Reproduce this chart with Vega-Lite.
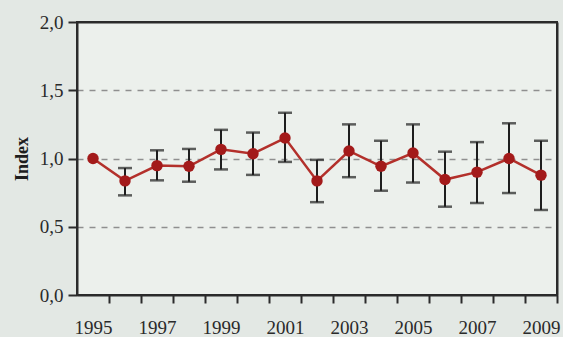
{
  "$schema": "https://vega.github.io/schema/vega-lite/v6.json",
  "width": 480,
  "height": 273,
  "autosize": "none",
  "padding": {"left": 77, "top": 22, "right": 6, "bottom": 42},
  "background": "#e3e8e4",
  "config": {
    "view": {"fill": "#ecf0ec", "stroke": "#2b2b2b", "strokeWidth": 2},
    "font": "Liberation Serif"
  },
  "data": {
    "values": [
      {"year": 1995, "value": 1.0, "lo": null, "hi": null},
      {"year": 1996, "value": 0.836, "lo": 0.73, "hi": 0.93},
      {"year": 1997, "value": 0.948, "lo": 0.84, "hi": 1.06},
      {"year": 1998, "value": 0.943, "lo": 0.83, "hi": 1.07},
      {"year": 1999, "value": 1.067, "lo": 0.92, "hi": 1.21},
      {"year": 2000, "value": 1.035, "lo": 0.88, "hi": 1.19},
      {"year": 2001, "value": 1.15, "lo": 0.975, "hi": 1.335},
      {"year": 2002, "value": 0.836, "lo": 0.68, "hi": 0.99},
      {"year": 2003, "value": 1.055, "lo": 0.863, "hi": 1.25},
      {"year": 2004, "value": 0.943, "lo": 0.764, "hi": 1.13},
      {"year": 2005, "value": 1.04, "lo": 0.824, "hi": 1.25},
      {"year": 2006, "value": 0.846, "lo": 0.647, "hi": 1.05},
      {"year": 2007, "value": 0.9, "lo": 0.674, "hi": 1.12},
      {"year": 2008, "value": 1.0, "lo": 0.747, "hi": 1.258},
      {"year": 2009, "value": 0.878, "lo": 0.623, "hi": 1.13}
    ]
  },
  "resolve": {"axis": {"x": "independent", "y": "independent"}},
  "layer": [
    {
      "mark": {"type": "rule", "color": "#1e1e1e", "strokeWidth": 2},
      "encoding": {
        "x": {
          "field": "year",
          "type": "quantitative",
          "scale": {"domain": [1994.5, 2009.5], "nice": false, "zero": false},
          "axis": {
            "title": null,
            "values": [1995, 1996, 1997, 1998, 1999, 2000, 2001, 2002, 2003, 2004, 2005, 2006, 2007, 2008, 2009],
            "tickOffset": 16,
            "labelOffset": -16,
            "labelExpr": "datum.value % 2 == 1 ? datum.value + '' : ''",
            "labelOverlap": false,
            "labelFlush": false,
            "grid": false,
            "domainColor": "#2b2b2b",
            "domainWidth": 2,
            "tickColor": "#2b2b2b",
            "tickWidth": 2,
            "tickSize": 8,
            "labelPadding": 15,
            "labelFontSize": 19,
            "labelColor": "#2a2a2a",
            "labelFont": "Liberation Serif"
          }
        },
        "y": {
          "field": "lo",
          "type": "quantitative",
          "scale": {"domain": [0, 2], "nice": false},
          "axis": {
            "title": "Index",
            "titleFont": "Liberation Serif",
            "titleFontSize": 18,
            "titleFontWeight": "bold",
            "titleColor": "#1e1e1e",
            "titlePadding": 8,
            "values": [0, 0.5, 1, 1.5, 2],
            "labelExpr": "replace(format(datum.value, '.1f'), '.', ',')",
            "labelFont": "Liberation Serif",
            "labelFontSize": 19,
            "labelColor": "#2a2a2a",
            "labelPadding": 5,
            "tickSize": 9,
            "tickWidth": 2,
            "tickColor": "#2b2b2b",
            "domainColor": "#2b2b2b",
            "domainWidth": 2,
            "grid": true,
            "gridDash": [6, 6],
            "gridColor": "#8f8f8f",
            "gridWidth": 1.5,
            "gridOpacity": {"condition": {"test": "datum.value == 0 || datum.value == 2", "value": 0}, "value": 1}
          }
        },
        "y2": {"field": "hi"}
      }
    },
    {
      "mark": {"type": "tick", "orient": "horizontal", "color": "#1e1e1e", "size": 14, "thickness": 2.5},
      "encoding": {
        "x": {
          "field": "year",
          "type": "quantitative",
          "axis": {"orient": "top", "title": null, "labels": false, "ticks": false, "grid": false, "domain": true, "domainColor": "#2b2b2b", "domainWidth": 2}
        },
        "y": {
          "field": "hi",
          "type": "quantitative",
          "axis": {"orient": "right", "title": null, "labels": false, "ticks": false, "grid": false, "domain": true, "domainColor": "#2b2b2b", "domainWidth": 2}
        }
      }
    },
    {
      "mark": {"type": "tick", "orient": "horizontal", "color": "#1e1e1e", "size": 14, "thickness": 2.5},
      "encoding": {
        "x": {"field": "year", "type": "quantitative", "axis": null},
        "y": {"field": "lo", "type": "quantitative", "axis": null}
      }
    },
    {
      "mark": {"type": "line", "color": "#b3302b", "strokeWidth": 2.5},
      "encoding": {
        "x": {"field": "year", "type": "quantitative", "axis": null},
        "y": {"field": "value", "type": "quantitative", "axis": null}
      }
    },
    {
      "mark": {"type": "point", "filled": true, "color": "#a31a1a", "size": 130, "opacity": 1},
      "encoding": {
        "x": {"field": "year", "type": "quantitative", "axis": null},
        "y": {"field": "value", "type": "quantitative", "axis": null}
      }
    }
  ]
}
